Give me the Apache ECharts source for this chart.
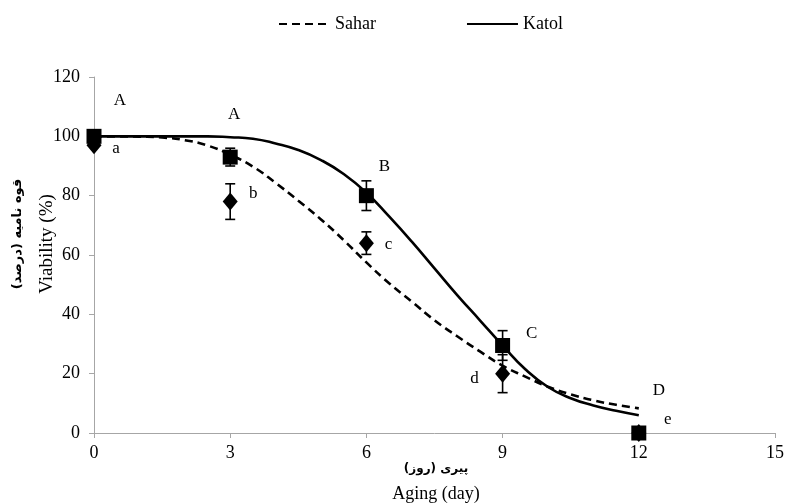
<!DOCTYPE html>
<html>
<head>
<meta charset="utf-8">
<script src="https://cdn.jsdelivr.net/npm/echarts@6/dist/echarts.min.js"></script>
<style>
  html, body { margin: 0; padding: 0; background: #fff; }
  #chart { width: 787px; height: 503px; }
</style>
</head>
<body>
<div id="chart"></div>
<script>
// Aging days at which viability was measured
const days = [0, 3, 6, 9, 12];

// Measured viability (%) and standard error
const katolMean = [100, 93, 80, 29.5, 0];
const katolErr  = [0, 3, 5, 5, 0];
const saharMean = [97, 78, 64, 20, 0];
const saharErr  = [0, 6, 3.8, 6.4, 0];

// Mean-separation letters
const katolLetters = ['A', 'A', 'B', 'C', 'D'];
const saharLetters = ['a', 'b', 'c', 'd', 'e'];

// Fitted curves, sampled every half day
const curveDays = [0, 0.5, 1, 1.5, 2, 2.5, 3, 3.5, 4, 4.5, 5, 5.5, 6, 6.5, 7, 7.5, 8, 8.5, 9, 9.5, 10, 10.5, 11, 11.5, 12];
const katolFit = [100, 100, 100, 100, 100, 100, 99.7, 99.2, 97.6, 95.4, 92, 87.3, 81, 73, 64.5, 55.5, 46.5, 38, 29.5, 21.5, 15.5, 11.7, 9.3, 7.5, 6];
const saharFit = [100, 100, 99.9, 99.6, 98.7, 96.9, 93.8, 89.8, 84.3, 78.3, 72, 65, 57.5, 50.5, 44.3, 38, 32.6, 27.5, 22.7, 19, 15.6, 13, 11, 9.5, 8.3];

// Label placement (pixel offsets from each marker)
const katolLabelOffset = [[26, -36], [4, -43], [18, -29], [29, -12], [20, -42]];
const saharLabelOffset = [[22, 3], [23, -8], [22, 1], [-28, 5], [29, -13]];

const serif = '"Liberation Serif", "Times New Roman", serif';
const arabic = '"DejaVu Sans", sans-serif';

function pairs(xs, ys) { return xs.map((x, i) => [x, ys[i]]); }

function markerData(means, letters, offsets) {
  return days.map((d, i) => ({
    value: [d, means[i]],
    label: { formatter: letters[i], offset: offsets[i] }
  }));
}

function errData(means, errs) {
  return days.map((d, i) => [d, means[i] - errs[i], means[i] + errs[i]]).filter((r, i) => errs[i] > 0);
}

function errorBarRender(params, api) {
  const x = api.value(0);
  const lo = api.coord([x, api.value(1)]);
  const hi = api.coord([x, api.value(2)]);
  const cap = 5;
  const style = { stroke: '#000', lineWidth: 1.6 };
  return {
    type: 'group',
    children: [
      { type: 'line', shape: { x1: lo[0], y1: lo[1], x2: hi[0], y2: hi[1] }, style },
      { type: 'line', shape: { x1: lo[0] - cap, y1: lo[1], x2: lo[0] + cap, y2: lo[1] }, style },
      { type: 'line', shape: { x1: hi[0] - cap, y1: hi[1], x2: hi[0] + cap, y2: hi[1] }, style }
    ]
  };
}

const chart = echarts.init(document.getElementById('chart'), null, { renderer: 'canvas' });

const letterLabel = {
  show: true,
  position: 'inside',
  color: '#000',
  fontFamily: serif,
  fontSize: 17
};

chart.setOption({
  animation: false,
  backgroundColor: '#fff',
  legend: {
    top: 10,
    left: 273,
    data: ['Sahar', 'Katol'],
    itemWidth: 51,
    itemHeight: 14,
    itemGap: 90,
    itemStyle: { opacity: 0 },
    textStyle: { fontFamily: serif, fontSize: 18, color: '#000' }
  },
  grid: { left: 94, right: 9, top: 77, bottom: 70, containLabel: false },
  xAxis: {
    type: 'value',
    min: 0, max: 15, interval: 3,
    axisLine: { show: true, lineStyle: { color: '#a6a6a6', width: 1 } },
    axisTick: { show: true, length: 5, lineStyle: { color: '#a6a6a6' } },
    axisLabel: { fontFamily: serif, fontSize: 18, color: '#000', margin: 11 },
    splitLine: { show: false }
  },
  yAxis: {
    type: 'value',
    min: 0, max: 120, interval: 20,
    axisLine: { show: true, lineStyle: { color: '#a6a6a6', width: 1 } },
    axisTick: { show: true, length: 5, lineStyle: { color: '#a6a6a6' } },
    axisLabel: { fontFamily: serif, fontSize: 18, color: '#000', margin: 14 },
    splitLine: { show: false }
  },
  graphic: [
    {
      type: 'text', x: 436, y: 494,
      style: { text: 'Aging (day)', font: '18px ' + serif, fill: '#000', align: 'center', verticalAlign: 'middle' }
    },
    {
      type: 'text', x: 436, y: 469,
      style: { text: 'پیری (روز)', font: 'bold 12px ' + arabic, fill: '#000', align: 'center', verticalAlign: 'middle' }
    },
    {
      type: 'text', x: 47, y: 244, rotation: Math.PI / 2,
      style: { text: 'Viability (%)', font: '19px ' + serif, fill: '#000', align: 'center', verticalAlign: 'middle' }
    },
    {
      type: 'text', x: 18, y: 234, rotation: Math.PI / 2,
      style: { text: 'قوه نامیه (درصد)', font: 'bold 13px ' + arabic, fill: '#000', align: 'center', verticalAlign: 'middle' }
    }
  ],
  series: [
    {
      name: 'Sahar', type: 'line', smooth: true, symbol: 'none', z: 2,
      data: pairs(curveDays, saharFit),
      lineStyle: { color: '#000', width: 2.6, type: [8, 5] },
      itemStyle: { color: '#000' }
    },
    {
      name: 'Katol', type: 'line', smooth: true, symbol: 'none', z: 2,
      data: pairs(curveDays, katolFit),
      lineStyle: { color: '#000', width: 2.6, type: 'solid' },
      itemStyle: { color: '#000' }
    },
    {
      name: 'Sahar error', type: 'custom', z: 3,
      renderItem: errorBarRender,
      data: errData(saharMean, saharErr)
    },
    {
      name: 'Katol error', type: 'custom', z: 3,
      renderItem: errorBarRender,
      data: errData(katolMean, katolErr)
    },
    {
      name: 'Sahar points', type: 'scatter', symbol: 'diamond', symbolSize: [15, 18], z: 4,
      itemStyle: { color: '#000', opacity: 1 },
      label: letterLabel,
      data: markerData(saharMean, saharLetters, saharLabelOffset)
    },
    {
      name: 'Katol points', type: 'scatter', symbol: 'rect', symbolSize: 15, z: 5,
      itemStyle: { color: '#000', opacity: 1 },
      label: letterLabel,
      data: markerData(katolMean, katolLetters, katolLabelOffset)
    }
  ]
});
</script>
</body>
</html>
